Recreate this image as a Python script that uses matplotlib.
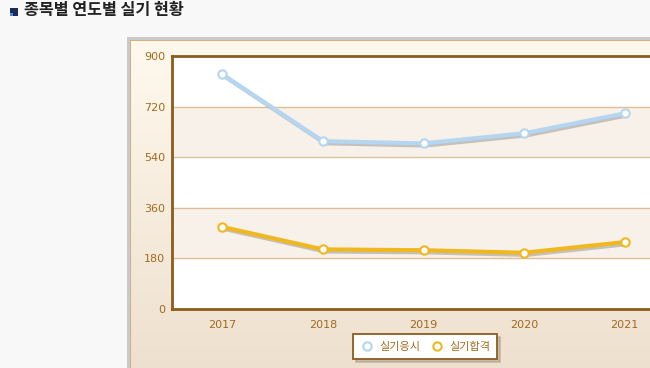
import numpy as np
import matplotlib.pyplot as plt
import matplotlib.patheffects as pe
from matplotlib.patches import Rectangle
from matplotlib.lines import Line2D

years = ['2017', '2018', '2019', '2020', '2021']
applied = [835, 597, 589, 625, 696]   # 실기응시
passed = [292, 212, 209, 200, 238]    # 실기합격
y_ticks = [0, 180, 360, 540, 720, 900]
labels = ['실기응시', '실기합격']
title = '종목별 연도별 실기 현황'

W, H = 650, 368
fig = plt.figure(figsize=(W / 100, H / 100), dpi=100, facecolor='#f8f8f8')


def fx(px):
    return px / W


def fy(py):
    return 1 - py / H


# title with small bullet icon
fig.patches.append(Rectangle((fx(10), fy(16)), 8 / W, 8 / H, transform=fig.transFigure,
                             facecolor='#1c2b55', edgecolor='none'))
fig.patches.append(Rectangle((fx(10), fy(16)), 3 / W, 3 / H, transform=fig.transFigure,
                             facecolor='#4a8ad8', edgecolor='none'))
fig.text(fx(24), fy(10.5), title, fontsize=11.7, fontweight='bold', color='#222222',
         family=['Noto Sans CJK KR', 'DejaVu Sans'], va='center', ha='left')

# chart container: grey border, beige border, gradient fill
fig.patches.append(Rectangle((fx(127), 0), 1, fy(37), transform=fig.transFigure,
                             facecolor='#c9c9c9', edgecolor='none', zorder=-1))
bg = fig.add_axes([fx(130), 0, 1 - fx(130), fy(40)], zorder=0)
grad = np.linspace(0, 1, 256).reshape(-1, 1)
top = np.array([1.0, 0.975, 0.93])
bot = np.array([0.935, 0.88, 0.81])
img = top + (bot - top) * grad[:, :, None]
bg.imshow(img, aspect='auto', extent=[0, 1, 0, 1])
bg.add_patch(Rectangle((0, -1), 2, 2, fill=False, edgecolor='#d2b088', lw=1.5))
bg.set_xlim(0, 1)
bg.set_ylim(0, 1)
bg.axis('off')

# plot area
ax = fig.add_axes([fx(172), fy(309), (675 - 172) / W, (309 - 56) / H], zorder=2)
ax.set_facecolor('white')
x = np.arange(len(years)) + 0.5
ax.set_xlim(0, len(years))
ax.set_ylim(0, 900)

for i in range(len(y_ticks) - 1):
    if i % 2 == 1:
        ax.axhspan(y_ticks[i], y_ticks[i + 1], color='#f8f1e9', zorder=0)
for t in y_ticks[1:-1]:
    ax.axhline(t, color='#dcc09a', lw=1, zorder=1)

shadow = [pe.SimpleLineShadow(offset=(1.5, -1.5), shadow_color='#666666', alpha=0.35),
          pe.Normal()]
for vals, col in [(applied, '#b4d6f0'), (passed, '#f0b820')]:
    ax.plot(x, vals, color=col, lw=3, zorder=3, path_effects=shadow)
    ax.plot(x, vals, ls='none', marker='o', ms=6, mfc='white', mec=col, mew=1.5, zorder=4)

for s in ['left', 'top', 'bottom']:
    ax.spines[s].set_color('#8c5c1c')
    ax.spines[s].set_linewidth(2)
ax.spines['right'].set_visible(False)

ax.set_xticks(x)
ax.set_xticklabels(years)
ax.set_yticks(y_ticks)
ax.tick_params(axis='both', length=0, labelsize=8, colors='#a06a1e')
ax.tick_params(axis='x', pad=8)
ax.tick_params(axis='y', pad=5)

handles = [Line2D([], [], ls='none', marker='o', ms=6, mfc='white', mec='#b4d6f0', mew=1.5),
           Line2D([], [], ls='none', marker='o', ms=6, mfc='white', mec='#f0b820', mew=1.5)]
leg = fig.legend(handles, labels, loc='center', bbox_to_anchor=(fx(425), fy(346.5)),
                 ncol=2, frameon=True, fancybox=False, shadow={'color': '#b0a090', 'alpha': 0.6},
                 handlelength=1.2, handletextpad=0.5, columnspacing=0.9,
                 borderpad=0.65, prop={'family': ['Noto Sans CJK KR', 'DejaVu Sans'], 'size': 8})
leg.get_frame().set_edgecolor('#8c5c1c')
leg.get_frame().set_linewidth(1.3)
for t in leg.get_texts():
    t.set_color('#a06a1e')

fig.savefig('out.png', dpi=100, facecolor=fig.get_facecolor())
